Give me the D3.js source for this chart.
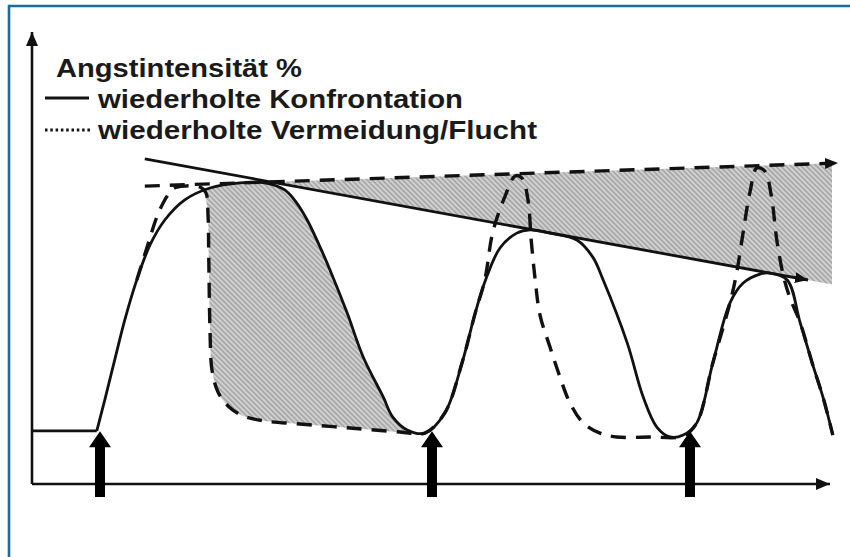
<!DOCTYPE html>
<html><head><meta charset="utf-8">
<script src="https://cdn.jsdelivr.net/npm/d3@7"></script>
<style>html,body{margin:0;padding:0;background:#fff;} svg{display:block}</style>
</head><body>
<svg id="chart" width="850" height="557"></svg>
<script>
// ---- data (x: time 0..100, y: Angstintensität %) ----
const baselineX = [0, 8.1];
const baselineY = [16.6, 16.6];
const confrontX = [8.1, 9.1, 10.4, 11.6, 13.1, 14.75, 16.6, 19.1, 22.25, 26, 29.1, 31.6, 33.1, 34.4, 36, 37.25, 39.4, 41.4, 43.9, 45.1, 46.9, 49.1, 51.6, 53.75, 55.4, 56.6, 58.5, 60.6, 62.25, 64.75, 68.1, 70.1, 71.4, 74.4, 76.4, 78.1, 79.75, 81.4, 83.1, 85.1, 87.25, 88.9, 91, 92.25, 94.4, 96, 97.6, 98.9, 100.1];
const confrontY = [16.6, 26.3, 39.4, 51.3, 63.8, 74.7, 82.5, 88.8, 92.5, 94.1, 94.1, 91.9, 87.8, 82.5, 74.1, 66.9, 53.4, 39.7, 27.2, 20.9, 16.9, 15.9, 22.2, 37.8, 53.4, 63.1, 73.75, 78.4, 79.4, 78.4, 76.25, 70.9, 63.75, 44.1, 27.2, 17.8, 14.7, 15.3, 19.1, 37.8, 56.6, 62.8, 65.6, 65.9, 63.75, 50.6, 37.2, 26.9, 15.3];
const avoidX = [13.1, 14.4, 15.6, 16.6, 17.6, 19.1, 21, 21.75, 22, 22.1, 22.25, 22.5, 23.25, 24.5, 26.4, 29.1, 33.5, 39.75, 46, 49.1, 51.6, 53.75, 55.4, 56.6, 57.6, 59.1, 60.4, 61.25, 62, 62.4, 62.9, 63.5, 64.75, 66, 67.25, 68.9, 71, 73.1, 77.25, 81.4, 83.1, 85.1, 87.25, 88.1, 88.9, 89.75, 90.6, 91.6, 92.4, 93.1, 93.9, 94.75, 96, 97.6, 98.9, 100.1];
const avoidY = [63.75, 74.1, 83.4, 88.75, 92.2, 93.1, 92.8, 90.9, 84.1, 70, 48.1, 35.6, 28.75, 24.4, 21.25, 19.7, 18.75, 17.5, 16.25, 15.9, 22.2, 37.8, 53.4, 63.75, 78.75, 89.7, 96.25, 95.6, 88.75, 76.25, 63.75, 52.8, 42.8, 33.4, 25.3, 19.1, 15.9, 14.7, 14.7, 15, 19.1, 37.8, 56.6, 66.25, 78.75, 91.25, 98.75, 97.8, 90.3, 76.25, 65.3, 58.1, 50.6, 37.2, 26.9, 15.3];
const confrontTrendX = [14.1, 97];
const confrontTrendY = [101.6, 63.75];
const avoidTrendX = [14.1, 100.75];
const avoidTrendY = [93.1, 100.3];
const exposureX = [8.5, 50, 82.25];
const titleLabel = "Angstintensität %";
const legendLabels = ["wiederholte Konfrontation", "wiederholte Vermeidung/Flucht"];

// ---- setup ----
const svg = d3.select("#chart");
const x = d3.scaleLinear().domain([0, 100]).range([32, 832]);
const y = d3.scaleLinear().domain([0, 100]).range([484, 164]);
const ink = "#111";

const defs = svg.append("defs");
const pat = defs.append("pattern").attr("id", "hatch").attr("patternUnits", "userSpaceOnUse")
  .attr("width", 3.6).attr("height", 3.6).attr("patternTransform", "rotate(-45)");
pat.append("rect").attr("width", 3.6).attr("height", 3.6).attr("fill", "#a9a9a9");
pat.append("line").attr("x1", 0.9).attr("y1", 0).attr("x2", 0.9).attr("y2", 3.6)
  .attr("stroke", "#e6e6e6").attr("stroke-width", 1.2);

function marker(id, w, h) {
  defs.append("marker").attr("id", id).attr("viewBox", `0 0 ${w} ${h}`)
    .attr("refX", w).attr("refY", h / 2).attr("markerWidth", w).attr("markerHeight", h)
    .attr("markerUnits", "userSpaceOnUse").attr("orient", "auto")
    .append("path").attr("d", `M0,0L${w},${h / 2}L0,${h}Z`).attr("fill", ink);
}
marker("axisArrow", 14, 12);
marker("trendArrow", 13, 11);

// frame
svg.append("line").attr("x1", 8).attr("x2", 850).attr("y1", 6).attr("y2", 6)
  .attr("stroke", "#1a6d9e").attr("stroke-width", 2.6);
svg.append("line").attr("x1", 9).attr("x2", 9).attr("y1", 5).attr("y2", 557)
  .attr("stroke", "#1a6d9e").attr("stroke-width", 2.6);

const confront = confrontX.map((d, i) => [d, confrontY[i]]);
const avoid = avoidX.map((d, i) => [d, avoidY[i]]);
const baseline = baselineX.map((d, i) => [d, baselineY[i]]);

// hatched region A (between avoidance drop and confrontation descent)
const lo = 21.75, hi = 49.1;
const regionA = confront.filter(p => p[0] >= lo && p[0] <= hi)
  .concat(avoid.filter(p => p[0] >= lo && p[0] <= hi).reverse());
svg.append("path")
  .attr("d", d3.line().x(p => x(p[0])).y(p => y(p[1])).curve(d3.curveCatmullRomClosed.alpha(0.5))(regionA))
  .attr("fill", "url(#hatch)");

// hatched region B (between the two trend lines)
const tS = d3.scaleLinear().domain(confrontTrendX).range(confrontTrendY);
const tD = d3.scaleLinear().domain(avoidTrendX).range(avoidTrendY);
const sS = (confrontTrendY[1] - confrontTrendY[0]) / (confrontTrendX[1] - confrontTrendX[0]);
const sD = (avoidTrendY[1] - avoidTrendY[0]) / (avoidTrendX[1] - avoidTrendX[0]);
const xi = confrontTrendX[0] + (avoidTrendY[0] - confrontTrendY[0]) / (sS - sD);
const regionB = [[xi, tS(xi)], [100, tD(100)], [100, tS(100)]];
svg.append("path")
  .attr("d", d3.line().x(p => x(p[0])).y(p => y(p[1]))(regionB) + "Z")
  .attr("fill", "url(#hatch)");

const curve = d3.line().x(p => x(p[0])).y(p => y(p[1])).curve(d3.curveCatmullRom.alpha(0.5));

// avoidance curve (dashed)
svg.append("path").attr("d", curve(avoid)).attr("fill", "none").attr("stroke", ink)
  .attr("stroke-width", 3.4).attr("stroke-dasharray", "15,10");
// confrontation curve (solid)
svg.append("path").attr("d", d3.line().x(p => x(p[0])).y(p => y(p[1]))(baseline))
  .attr("fill", "none").attr("stroke", ink).attr("stroke-width", 2.6);
svg.append("path").attr("d", curve(confront)).attr("fill", "none").attr("stroke", ink)
  .attr("stroke-width", 2.8).attr("stroke-linejoin", "round");

// trend lines
svg.append("line").attr("x1", x(avoidTrendX[0])).attr("y1", y(avoidTrendY[0]))
  .attr("x2", x(avoidTrendX[1]) - 8).attr("y2", y(tD(avoidTrendX[1] - 1)))
  .attr("stroke", ink).attr("stroke-width", 3.4).attr("stroke-dasharray", "15,10");
svg.append("path").attr("d", d3.line()([[x(avoidTrendX[1]) - 10, y(tD(avoidTrendX[1] - 1.25))], [x(avoidTrendX[1]), y(avoidTrendY[1])]]))
  .attr("stroke", "none").attr("marker-end", "url(#trendArrow)");
svg.append("line").attr("x1", x(confrontTrendX[0])).attr("y1", y(confrontTrendY[0]))
  .attr("x2", x(confrontTrendX[1])).attr("y2", y(confrontTrendY[1]))
  .attr("stroke", ink).attr("stroke-width", 2.8).attr("marker-end", "url(#trendArrow)");

// axes
svg.append("line").attr("x1", x(0)).attr("y1", y(0)).attr("x2", x(0)).attr("y2", 32)
  .attr("stroke", ink).attr("stroke-width", 2.6).attr("marker-end", "url(#axisArrow)");
svg.append("line").attr("x1", x(0)).attr("y1", y(0)).attr("x2", 830).attr("y2", y(0))
  .attr("stroke", ink).attr("stroke-width", 2.6).attr("marker-end", "url(#axisArrow)");

// exposure arrows
svg.selectAll("path.expo").data(exposureX).join("path").attr("class", "expo")
  .attr("d", d => {
    const cx = x(d), tip = y(16.5), neck = tip + 16, bot = y(-4.1);
    return `M${cx},${tip}L${cx + 11},${neck}L${cx + 5},${neck}L${cx + 5},${bot}L${cx - 5},${bot}L${cx - 5},${neck}L${cx - 11},${neck}Z`;
  })
  .attr("fill", "#000");

// legend
const font = "'Liberation Sans', Arial, sans-serif";
svg.append("text").attr("x", 56).attr("y", 77).text(titleLabel)
  .attr("font-family", font).attr("font-weight", "bold").attr("font-size", 25).attr("fill", "#1a1a1a")
  .attr("textLength", 246).attr("lengthAdjust", "spacingAndGlyphs");
const legLen = [365, 439];
svg.selectAll("text.leg").data(legendLabels).join("text").attr("class", "leg")
  .attr("x", 98).attr("y", (d, i) => 108 + i * 31).text(d => d)
  .attr("font-family", font).attr("font-weight", "bold").attr("font-size", 25).attr("fill", "#1a1a1a")
  .attr("textLength", (d, i) => legLen[i]).attr("lengthAdjust", "spacingAndGlyphs");
svg.append("line").attr("x1", 45).attr("x2", 89).attr("y1", 98).attr("y2", 98)
  .attr("stroke", ink).attr("stroke-width", 3);
svg.append("line").attr("x1", 45).attr("x2", 91).attr("y1", 130).attr("y2", 130)
  .attr("stroke", ink).attr("stroke-width", 3).attr("stroke-dasharray", "2.5,2.8");
</script>
</body></html>
